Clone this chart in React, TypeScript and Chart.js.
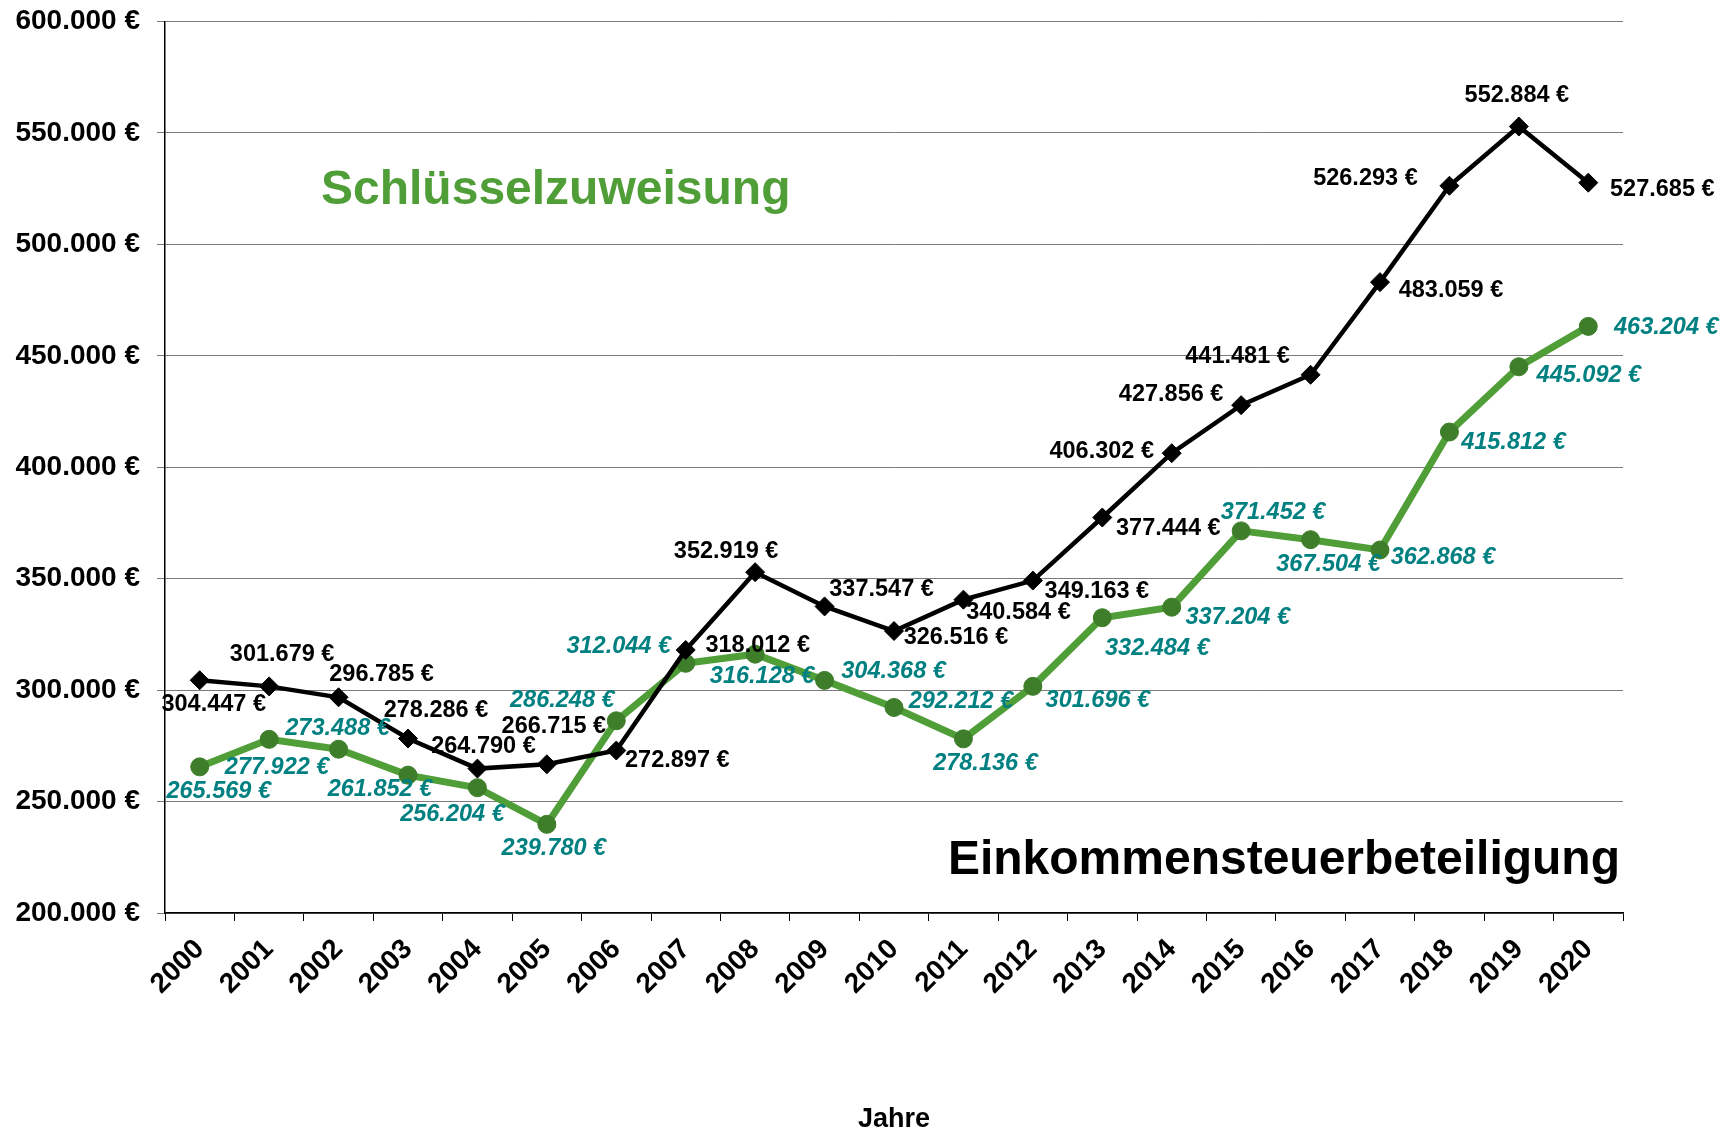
import React, { useEffect, useRef } from 'react';
import { Chart, registerables } from 'chart.js';

Chart.register(...registerables);

// ---------- data ----------
const years = ['2000', '2001', '2002', '2003', '2004', '2005', '2006', '2007', '2008', '2009', '2010',
  '2011', '2012', '2013', '2014', '2015', '2016', '2017', '2018', '2019', '2020'];

const einkommensteuerbeteiligung = [304447, 301679, 296785, 278286, 264790, 266715, 272897, 318012, 352919,
  337547, 326516, 340584, 349163, 377444, 406302, 427856, 441481, 483059, 526293, 552884, 527685];

const schluesselzuweisung = [265569, 277922, 273488, 261852, 256204, 239780, 286248, 312044, 316128,
  304368, 292212, 278136, 301696, 332484, 337204, 371452, 367504, 362868, 415812, 445092, 463204];

const yMin = 200000;
const yMax = 600000;
const yStep = 50000;

const seriesNames = ['Einkommensteuerbeteiligung', 'Schlüsselzuweisung'];
const axisTitle = 'Jahre';

// ---------- label placement (offset of each value label from its point, px) ----------
const blackLabelOffsets: [number, number][] = [
  [14, 24], [13, -32], [43, -23], [28, -28], [6, -22], [7, -38], [61, 10], [72, -4], [-29, -21],
  [57, -17], [62, 6], [55, 13], [64, 11], [66, 11], [-70, -2], [-70, -11], [-73, -18], [71, 8],
  [-84, -7], [-2, -31], [74, 7],
];
const greenLabelOffsets: [number, number][] = [
  [19, 25], [8, 28], [-1, -21], [-28, 14], [-25, 27], [7, 24], [-54, -20], [-67, -17], [7, 22],
  [69, -9], [67, -6], [22, 25], [65, 14], [55, 31], [66, 10], [32, -18], [18, 25], [63, 8],
  [64, 11], [70, 9], [78, 1],
];

// ---------- styles ----------
const FONT = "'Liberation Sans', Arial, Helvetica, sans-serif";
const GREEN_LINE = 'rgb(80,158,56)';
const GREEN_POINT = 'rgb(62,125,42)';
const TEAL = 'rgb(0,128,128)';

function fmtEuro(v: number): string {
  const s = String(Math.round(v)).replace(/\B(?=(\d{3})+(?!\d))/g, '.');
  return s + ' €';
}

const overlayPlugin = {
  id: 'overlayLabels',
  afterDatasetsDraw(chart: any) {
    const ctx = chart.ctx as CanvasRenderingContext2D;
    const area = chart.chartArea;
    ctx.save();
    const specs = [
      { ds: 0, offs: blackLabelOffsets, color: '#000', font: `bold 23.5px ${FONT}` },
      { ds: 1, offs: greenLabelOffsets, color: TEAL, font: `italic bold 23.5px ${FONT}` },
    ];
    ctx.textAlign = 'center';
    ctx.textBaseline = 'middle';
    specs.forEach((sp) => {
      const meta = chart.getDatasetMeta(sp.ds);
      const vals = chart.data.datasets[sp.ds].data as number[];
      ctx.font = sp.font;
      ctx.fillStyle = sp.color;
      meta.data.forEach((pt: any, j: number) => {
        const [dx, dy] = sp.offs[j] || [0, -20];
        ctx.fillText(fmtEuro(vals[j]), pt.x + dx, pt.y + dy);
      });
    });
    // series name annotations
    ctx.textBaseline = 'alphabetic';
    ctx.textAlign = 'left';
    ctx.font = `bold 48px ${FONT}`;
    ctx.fillStyle = GREEN_LINE;
    ctx.fillText(seriesNames[1], area.left + 156, area.top + 182);
    ctx.fillStyle = '#000';
    ctx.textAlign = 'right';
    ctx.fillText(seriesNames[0], area.right - 3, area.top + 852);
    ctx.restore();
  },
};

function zeroPad(s: any) {
  s.paddingTop = 0;
  s.paddingBottom = 0;
  s.paddingLeft = 0;
  s.paddingRight = 0;
}

export default function App() {
  const canvasRef = useRef<HTMLCanvasElement | null>(null);

  useEffect(() => {
    const canvas = canvasRef.current;
    if (!canvas) return;
    const chart = new Chart(canvas, {
      type: 'line',
      data: {
        labels: years,
        datasets: [
          {
            label: seriesNames[0],
            data: einkommensteuerbeteiligung,
            borderColor: '#000',
            borderWidth: 4.5,
            backgroundColor: '#000',
            pointStyle: 'rectRot',
            pointRadius: 9.5,
            pointBorderWidth: 1,
            pointBackgroundColor: '#000',
            pointBorderColor: '#000',
            tension: 0,
            fill: false,
          },
          {
            label: seriesNames[1],
            data: schluesselzuweisung,
            borderColor: GREEN_LINE,
            borderWidth: 7,
            backgroundColor: GREEN_POINT,
            pointStyle: 'circle',
            pointRadius: 9,
            pointBorderWidth: 1,
            pointBackgroundColor: GREEN_POINT,
            pointBorderColor: GREEN_POINT,
            tension: 0,
            fill: false,
          },
        ],
      },
      options: {
        responsive: false,
        animation: false,
        devicePixelRatio: 1,
        layout: { padding: { top: 21.5, right: 110, bottom: 0, left: 0 } },
        plugins: {
          legend: { display: false },
          tooltip: { enabled: false },
        },
        scales: {
          x: {
            offset: true,
            grid: {
              offset: true,
              drawOnChartArea: false,
              drawTicks: true,
              tickLength: 8,
              color: '#000',
            },
            border: { color: '#000', width: 1.5 },
            ticks: {
              autoSkip: false,
              minRotation: 45,
              maxRotation: 45,
              padding: 12,
              color: '#000',
              font: { family: FONT, size: 28, weight: 'bold' },
            },
            title: {
              display: true,
              text: axisTitle,
              color: '#000',
              font: { family: FONT, size: 27, weight: 'bold', lineHeight: 0.6 },
              padding: { top: 0, bottom: 0 },
            },
            afterFit: (s: any) => { s.height = 215; zeroPad(s); },
          },
          y: {
            min: yMin,
            max: yMax,
            ticks: {
              stepSize: yStep,
              padding: 17,
              color: '#000',
              font: { family: FONT, size: 28, weight: 'bold' },
              callback: (v: any) => fmtEuro(Number(v)),
            },
            grid: {
              color: '#7a7a7a',
              lineWidth: 1,
              tickLength: 8,
              tickColor: '#7a7a7a',
            },
            border: { color: '#000', width: 1.5 },
            afterFit: (s: any) => { s.width = 165; zeroPad(s); },
          },
        },
      },
      plugins: [overlayPlugin],
    } as any);
    return () => chart.destroy();
  }, []);

  return (
    <div style={{ position: 'absolute', left: 0, top: 0, width: 1733, height: 1128, background: '#fff' }}>
      <canvas ref={canvasRef} width={1733} height={1128} style={{ display: 'block' }} />
    </div>
  );
}
